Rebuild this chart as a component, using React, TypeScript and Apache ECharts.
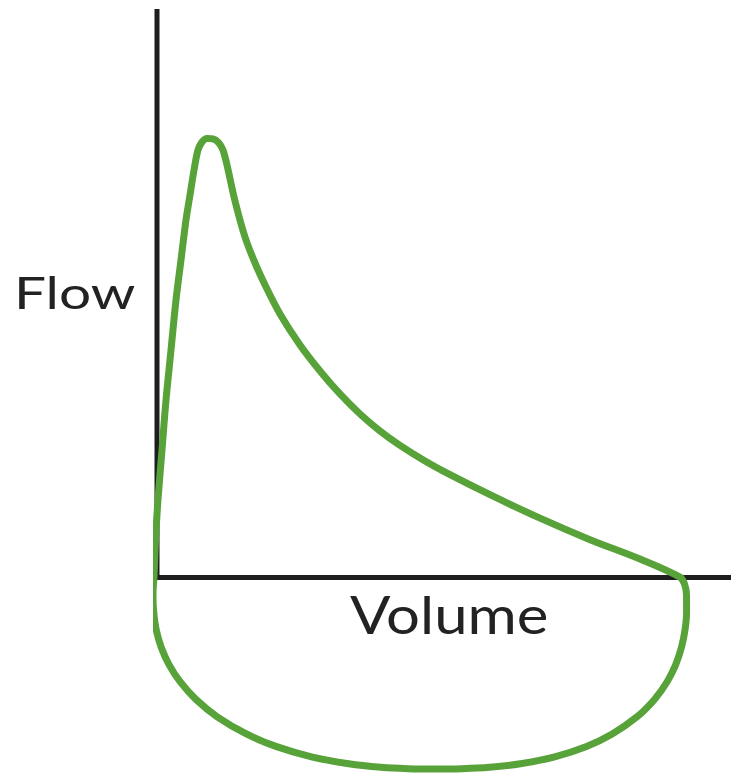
import React, { useEffect, useRef } from "react";
import * as echarts from "echarts";

// Flow-volume loop, traced in (volume, flow) units
const loopVolume = [
  -0.52, -0.26, 0.17, 0.87, 1.57, 2.44, 3.31, 4.18, 5.05, 5.75, 6.45, 7.14, 7.84, 8.71, 9.76,
  10.8, 11.5, 11.85, 12.2,
  13.59, 15.33, 17.07, 18.82, 21.43, 24.91, 28.4, 31.88, 35.37, 38.85, 42.33, 46.69, 51.05,
  58.01, 66.72, 75.44, 84.15, 91.11,
  91.9, 92.25, 92.26, 91.99, 91.38, 90.37, 88.85, 86.67, 83.62, 79.23, 74.83, 69.29, 63.31,
  57.93, 53.14, 48.26, 43.73, 39.04, 33.4, 26.92, 20.71, 15.66, 10.49, 6.78, 4.06, 2.09, 0.73,
  -0.14, -0.57, -0.7, -0.52,
];
const loopFlow = [
  0, 6.54, 13.58, 22.38, 31.18, 39.98, 48.78, 55.82, 62.86, 67.26, 71.66, 75.18, 76.59, 77.21,
  77.12, 76.41, 75.18, 73.95, 72.54,
  66.21, 59.87, 55.3, 51.42, 46.32, 40.87, 36.29, 32.24, 28.72, 25.73, 23.19, 20.45, 18.04,
  14.52, 10.38, 6.6, 3.19, 0,
  -1.21, -3.14, -6.2, -9.27, -12.33, -15.39, -18.45, -21.52, -24.58, -27.64, -29.79, -31.62,
  -32.85, -33.47, -33.71, -33.77, -33.71, -33.47, -32.85, -31.62, -29.79, -27.64, -24.58,
  -21.52, -18.45, -15.39, -12.33, -9.27, -6.2, -3.14, 0,
];
const flowAxisVolume = [0, 0];
const flowAxisFlow = [0, 100];
const axisTitles = ["Flow", "Volume"];

export default function App() {
  const ref = useRef<HTMLDivElement>(null);
  useEffect(() => {
    document.body.style.margin = "0";
    if (!ref.current) return;
    const chart = echarts.init(ref.current, undefined, { renderer: "svg" });
    const loopData = loopVolume.map((v, i) => [v, loopFlow[i]]);
    const vAxisData = flowAxisVolume.map((v, i) => [v, flowAxisFlow[i]]);
    chart.setOption({
      animation: false,
      backgroundColor: "#ffffff",
      grid: { left: 157, right: 0, top: 9, bottom: 0, containLabel: false },
      xAxis: {
        type: "value",
        min: 0,
        max: 100,
        axisLine: { show: true, onZero: true, lineStyle: { color: "#1e1e1e", width: 5 } },
        axisTick: { show: false },
        axisLabel: { show: false },
        splitLine: { show: false },
      },
      yAxis: {
        type: "value",
        min: -35,
        max: 100,
        show: false,
        splitLine: { show: false },
      },
      graphic: [
        {
          type: "text",
          x: 14,
          y: 270,
          scaleX: 1.29,
          style: {
            text: axisTitles[0],
            font: "44px Lato",
            fill: "#222222",
            verticalAlign: "top",
          },
        },
        {
          type: "text",
          x: 350,
          y: 587,
          scaleX: 1.13,
          style: {
            text: axisTitles[1],
            font: "53px Lato",
            fill: "#222222",
            verticalAlign: "top",
          },
        },
      ],
      series: [
        {
          type: "line",
          data: vAxisData,
          symbol: "none",
          clip: false,
          lineStyle: { color: "#1e1e1e", width: 5 },
          z: 1,
        },
        {
          type: "line",
          data: loopData,
          symbol: "none",
          smooth: 0.33,
          clip: false,
          lineStyle: { color: "#58a23a", width: 7, cap: "round", join: "round" },
          z: 3,
        },
      ],
    });
    return () => chart.dispose();
  }, []);
  return <div ref={ref} style={{ width: 731, height: 776 }} />;
}
